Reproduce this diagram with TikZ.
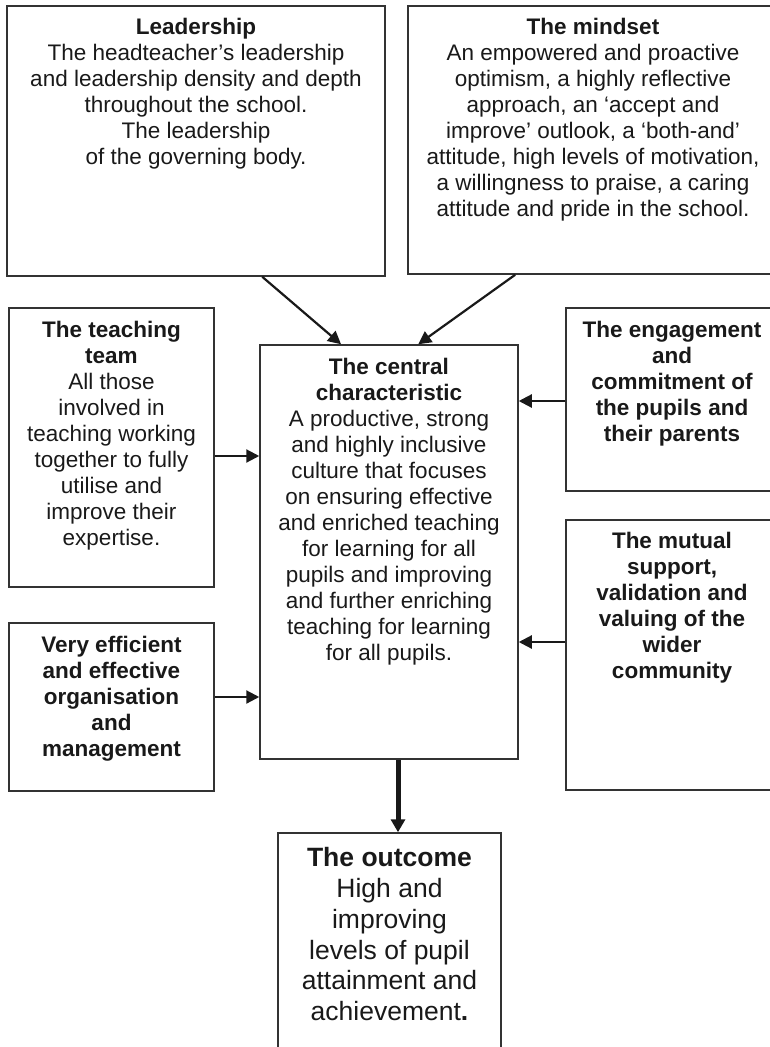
\documentclass[tikz,border=0pt]{standalone}
\usepackage{fontspec}
\setmainfont{Liberation Sans}
\usetikzlibrary{arrows.meta,positioning}

\begin{document}
\begin{tikzpicture}[x=1pt, y=-1pt,
    box/.style={rectangle, draw=black!80, line width=1.5pt, inner sep=0pt},
    txt/.style={align=center, inner sep=0pt, text=black!90, font=\fontsize{22.5}{26}\selectfont},
    bigtxt/.style={txt, font=\fontsize{26.5}{30.8}\selectfont}]
    \useasboundingbox (0,0) rectangle (770,1047);
    \clip (0,0) rectangle (770,1047);

    % the boxes
    \node [box, minimum width=378pt, minimum height=270pt] (lead) at (196,141) {};
    \node [box, minimum width=370pt, minimum height=268pt] (mind) at (593,140) {};
    \node [box, minimum width=205pt, minimum height=279pt] (teach) at (111.5,447.5) {};
    \node [box, minimum width=258pt, minimum height=414pt] (cent) at (389,552) {};
    \node [box, minimum width=212pt, minimum height=183pt] (engage) at (672,399.5) {};
    \node [box, minimum width=212pt, minimum height=270pt] (mutual) at (672,655) {};
    \node [box, minimum width=205pt, minimum height=168pt] (effic) at (111.5,707) {};
    \node [box, minimum width=223pt, minimum height=230pt] (outcome) at (389.5,948) {};

    % the texts
    \node [txt, below=13pt] (leadtxt) at (lead.north) {\textbf{Leadership}\\The headteacher’s leadership\\and leadership density and depth\\throughout the school.\\The leadership\\of the governing body.};
    \node [txt, below=13pt] (mindtxt) at (mind.north) {\textbf{The mindset}\\An empowered and proactive\\optimism, a highly reflective\\approach, an ‘accept and\\improve’ outlook, a ‘both-and’\\attitude, high levels of motivation,\\a willingness to praise, a caring\\attitude and pride in the school.};
    \node [txt, below=13.5pt] (teachtxt) at (teach.north) {\textbf{The teaching}\\\textbf{team}\\All those\\involved in\\teaching working\\together to fully\\utilise and\\improve their\\expertise.};
    \node [txt, below=14pt] (centtxt) at (cent.north) {\textbf{The central}\\\textbf{characteristic}\\A productive, strong\\and highly inclusive\\culture that focuses\\on ensuring effective\\and enriched teaching\\for learning for all\\pupils and improving\\and further enriching\\teaching for learning\\for all pupils.};
    \node [txt, below=14pt, font=\fontsize{22.5}{26}\selectfont\bfseries] (engagetxt) at (engage.north) {The engagement\\and\\commitment of\\the pupils and\\their parents};
    \node [txt, below=13pt, font=\fontsize{22.5}{26}\selectfont\bfseries] (mutualtxt) at (mutual.north) {The mutual\\support,\\validation and\\valuing of the\\wider\\community};
    \node [txt, below=13.5pt, font=\fontsize{22.5}{26}\selectfont\bfseries] (effictxt) at (effic.north) {Very efficient\\and effective\\organisation\\and\\management};
    \node [bigtxt, below=15pt] (outcometxt) at (outcome.north) {\textbf{The outcome}\\High and\\improving\\levels of pupil\\attainment and\\achievement\textbf{.}};

    \begin{scope}[line width=2.2pt, draw=black!90, -{Triangle[length=13pt, width=13pt]}]
        \draw (lead.-64.6) -- (cent.103.1);
        \draw (mind.-120.8) -- (cent.82.3);
        \draw ([yshift=-8.5pt]teach.east) -- ([yshift=-8.5pt]teach.east -| cent.west);
        \draw ([yshift=10pt]effic.east) -- ([yshift=10pt]effic.east -| cent.west);
        \draw ([yshift=-1.5pt]engage.west) -- ([yshift=-1.5pt]engage.west -| cent.east);
        \draw ([yshift=13pt]mutual.west) -- ([yshift=13pt]mutual.west -| cent.east);
    \end{scope}
    \draw [line width=5pt, draw=black!90, -{Triangle[length=13pt, width=14pt]}] ([xshift=9pt]cent.south) -- ([xshift=9pt]cent.south |- outcome.north);

\end{tikzpicture}
\end{document}
